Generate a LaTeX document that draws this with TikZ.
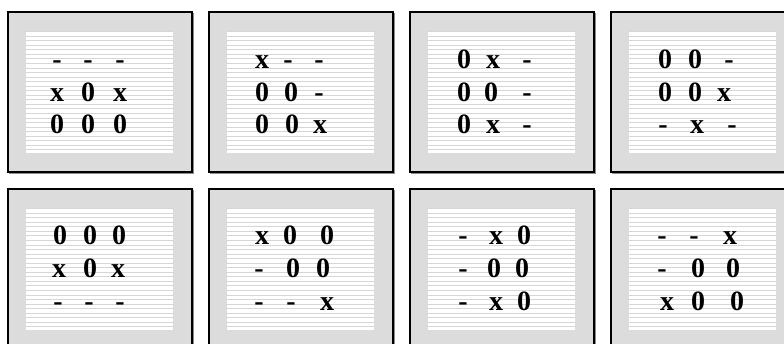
\documentclass[tikz,border=0pt]{standalone}
\usepackage{fontspec}
\setmainfont{Liberation Serif}
\definecolor{panelgray}{RGB}{220,220,220}
\definecolor{rulegray}{RGB}{214,214,214}

\tikzset{
  panel/.style={draw=black, line width=1.2pt, fill=panelgray},
  shade/.style={draw=black!45, line width=1.2pt},
  rule/.style={rulegray, line width=0.7pt},
  cell/.style={anchor=base, inner sep=0pt, font=\fontsize{21}{24}\selectfont\bfseries}
}

% one board: #1 left, #2 top (pixels, y going down)
\newcommand{\board}[2]{
  \draw[shade] (#1+1.5,#2+1.5) rectangle ++(184,160);
  \draw[panel] (#1,#2) rectangle ++(184,160);
  \fill[white] (#1+18,#2+19) rectangle ++(147,122);
  \foreach \k in {0,...,26}
    \draw[rule] (#1+18,#2+19.6+\k*4.55) -- ++(147,0);
}

\begin{document}
\begin{tikzpicture}[x=0.75pt, y=-0.75pt]
  \useasboundingbox (0,0) rectangle (784,343);
  \clip (0,0) rectangle (784,343);
  % panels
  \board{8}{12}
  \board{209}{12}
  \board{410}{12}
  \board{611}{12}
  \board{8}{189}
  \board{209}{189}
  \board{410}{189}
  \board{611}{189}
  % top row of boards
  \foreach \t/\x/\y [count=\i] in {-/57/68, -/88/68, -/120/68,
      x/57/101, 0/88/101, x/120/101, 0/57/133, 0/88/133, 0/120/133}
    \node[cell] (a\i) at (\x,\y) {\t};
  \foreach \t/\x/\y [count=\i] in {x/262/68, -/288/68, -/319/68,
      0/262/101, 0/291/101, -/319/101, 0/262/133, 0/292/133, x/320/133}
    \node[cell] (b\i) at (\x,\y) {\t};
  \foreach \t/\x/\y [count=\i] in {0/464/68, x/493/68, -/527/68,
      0/464/101, 0/491/101, -/527/101, 0/464/133, x/493/133, -/527/133}
    \node[cell] (c\i) at (\x,\y) {\t};
  \foreach \t/\x/\y [count=\i] in {0/665/68, 0/695/68, -/729/68,
      0/665/101, 0/695/101, x/724/101, -/663/133, x/697/133, -/732/133}
    \node[cell] (d\i) at (\x,\y) {\t};
  % bottom row of boards
  \foreach \t/\x/\y [count=\i] in {0/60/244, 0/90/244, 0/119/244,
      x/59/277, 0/90/277, x/118/277, -/58/310, -/89/310, -/120/310}
    \node[cell] (e\i) at (\x,\y) {\t};
  \foreach \t/\x/\y [count=\i] in {x/262/244, 0/290/244, 0/327/244,
      -/259/277, 0/293/277, 0/323/277, -/259/310, -/291/310, x/327/310}
    \node[cell] (f\i) at (\x,\y) {\t};
  \foreach \t/\x/\y [count=\i] in {-/463/244, x/496/244, 0/524/244,
      -/463/277, 0/494/277, 0/522/277, -/463/310, x/496/310, 0/524/310}
    \node[cell] (g\i) at (\x,\y) {\t};
  \foreach \t/\x/\y [count=\i] in {-/662/244, -/694/244, x/730/244,
      -/662/277, 0/698/277, 0/733/277, x/667/310, 0/698/310, 0/737/310}
    \node[cell] (h\i) at (\x,\y) {\t};
\end{tikzpicture}
\end{document}
